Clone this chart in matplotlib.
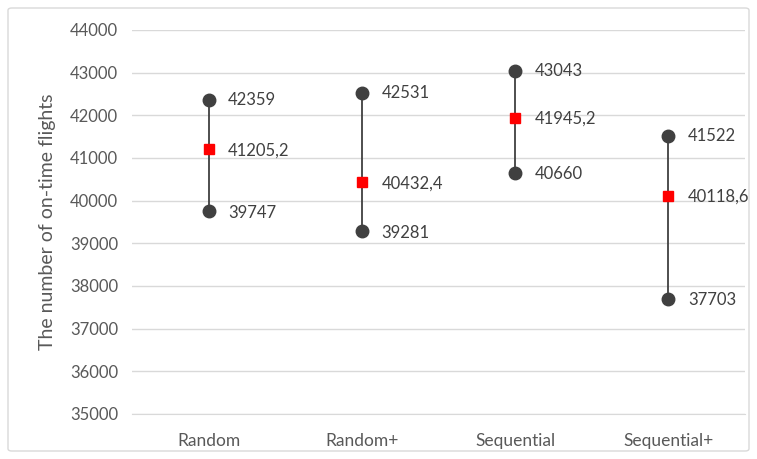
import matplotlib.pyplot as plt
from matplotlib.patches import FancyBboxPatch

categories = ['Random', 'Random+', 'Sequential', 'Sequential+']
high = [42359, 42531, 43043, 41522]
mean = [41205.2, 40432.4, 41945.2, 40118.6]
low = [39747, 39281, 40660, 37703]
mean_labels = ['41205,2', '40432,4', '41945,2', '40118,6']

plt.rcParams['font.family'] = ['Lato', 'DejaVu Sans']

fig = plt.figure(figsize=(7.57, 4.59), dpi=100)
ax = fig.add_axes([132/757, 45/459, 613/757, 384/459])

x = list(range(len(categories)))
dark = '#404040'

ax.vlines(x, low, high, color=dark, lw=1.3, zorder=2)
ax.plot(x, high, 'o', color=dark, ms=9, zorder=3)
ax.plot(x, low, 'o', color=dark, ms=9, zorder=3)
ax.plot(x, mean, 's', color='#ff0000', ms=7.5, zorder=4)

for i in x:
    ax.annotate(str(high[i]), (i, high[i]), xytext=(14, 0), textcoords='offset points',
                va='center', ha='left', fontsize=12, color=dark)
    ax.annotate(mean_labels[i], (i, mean[i]), xytext=(14, -1), textcoords='offset points',
                va='center', ha='left', fontsize=12, color=dark)
    ax.annotate(str(low[i]), (i, low[i]), xytext=(14, -1), textcoords='offset points',
                va='center', ha='left', fontsize=12, color=dark)

ax.set_xlim(-0.5, 3.5)
ax.set_ylim(35000, 44000)
ax.set_yticks(range(35000, 44001, 1000))
ax.set_xticks(x)
ax.set_xticklabels(categories)
ax.tick_params(axis='y', length=0, labelsize=12, colors='#595959', pad=10)
ax.tick_params(axis='x', length=0, labelsize=12.5, colors='#595959', pad=14)
ax.grid(axis='y', color='#d9d9d9', lw=1)
ax.set_axisbelow(True)
for s in ['top', 'right', 'left']:
    ax.spines[s].set_visible(False)
ax.spines['bottom'].set_color('#d9d9d9')
ax.set_ylabel('The number of on-time flights', fontsize=14, color='#595959', labelpad=10)

border = FancyBboxPatch((8/757, 8/459), 741/757, 443/459, boxstyle='round,pad=0,rounding_size=0.005',
                        transform=fig.transFigure, fill=False, ec='#d9d9d9', lw=1)
fig.patches.append(border)

fig.savefig('out.png', dpi=100)
